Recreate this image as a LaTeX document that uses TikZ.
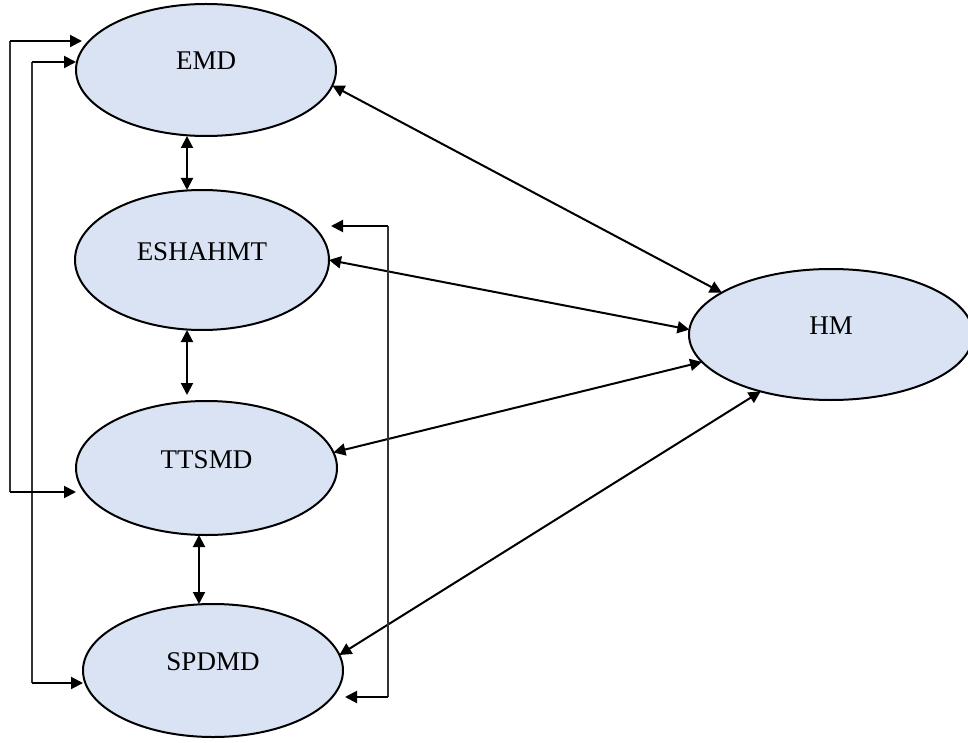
\documentclass[tikz,border=0pt]{standalone}
\usepackage{fontspec}
\setmainfont{Liberation Serif}
\usetikzlibrary{arrows.meta,shapes.geometric,calc}
\definecolor{ellfill}{HTML}{DAE3F3}
\begin{document}
\begin{tikzpicture}[x=1pt,y=-1pt,
  ell/.style={ellipse, draw=black, line width=2pt, fill=ellfill, inner sep=0pt, outer sep=0pt,
    text height=20pt, text depth=20pt, font=\fontsize{27}{32}\selectfont},
  arr/.style={-{Triangle[length=12pt,width=12pt]}, line width=2pt},
  dbl/.style={{Triangle[length=12pt,width=12pt]}-{Triangle[length=12pt,width=12pt]}, line width=2pt},
  thinline/.style={line width=1.2pt, draw=black!80}]
\useasboundingbox (0,0) rectangle (968,743);

\node[ell, minimum width=260pt, minimum height=132pt] (emd) at (206,70) {EMD};
\node[ell, minimum width=254pt, minimum height=140pt] (esh) at (202,260) {ESHAHMT};
\node[ell, minimum width=261pt, minimum height=134pt] (tts) at (206.5,468) {TTSMD};
\node[ell, minimum width=260pt, minimum height=133pt] (spd) at (213,670.5) {SPDMD};
\node[ell, minimum width=284pt, minimum height=131pt] (hm) at (831,334.5) {HM};

\coordinate (va) at (187,0);
\coordinate (vb) at (199,0);
\draw[dbl] (emd.south -| va) -- (esh.north -| va);
\draw[dbl, shorten >=6pt] (esh.south -| va) -- (tts.north -| va);
\draw[dbl] (tts.south -| vb) -- (spd.north -| vb);

\draw[dbl] (emd.-7) -- (hm.159);
\draw[dbl] (esh.east) -- (hm.178);
\draw[dbl] (tts.7) -- (hm.-168);
\draw[dbl] (spd.7) -- (hm.-141);

\coordinate (o1) at (10,41);
\coordinate (o2) at (10,492);
\coordinate (i1) at (32,62);
\coordinate (i2) at (32,683);
\coordinate (r1) at (388,226);
\coordinate (r2) at (388,697);
\draw[thinline] (o1) -- (o2);
\draw[thinline] (i1) -- (i2);
\draw[thinline] (r1) -- (r2);
\draw[arr] (o1) -- ([xshift=6pt]o1 -| emd.west);
\draw[arr] (o2) -- (o2 -| tts.west);
\draw[arr] (i1) -- (i1 -| emd.west);
\draw[arr] (i2) -- (i2 -| spd.west);
\draw[arr] (r1) -- ([xshift=2pt]r1 -| esh.east);
\draw[arr] (r2) -- ([xshift=2pt]r2 -| spd.east);
\end{tikzpicture}
\end{document}
